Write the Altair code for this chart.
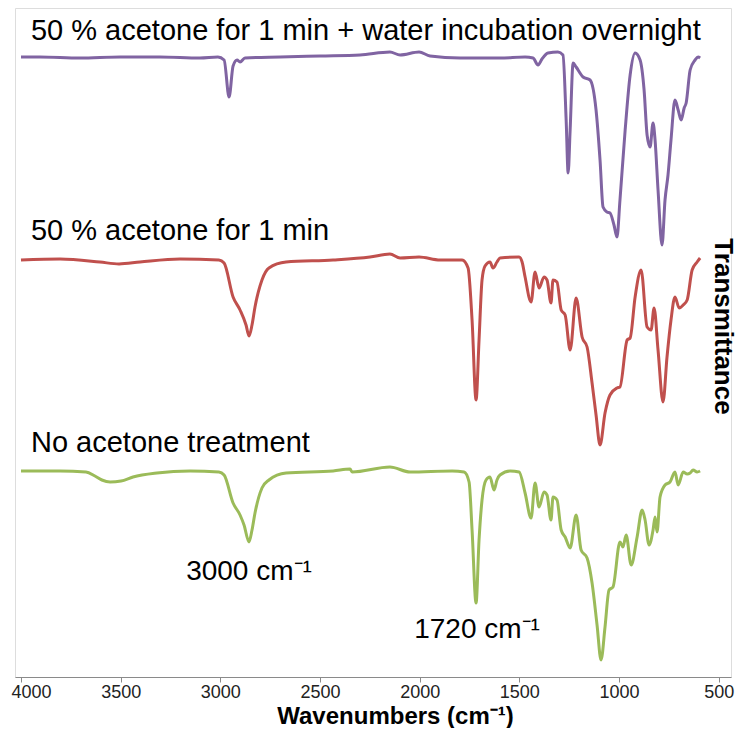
import altair as alt
import pandas as pd

# ---- data (wavenumber cm-1, transmittance a.u., traces offset) ----
purple_wn = [4000, 3905, 3704, 3503, 3303, 3102, 3012, 2981, 2956, 2936, 2916, 2901, 2876,
             2700, 2500, 2299, 2149, 2098, 2003, 1948, 1797, 1597, 1471, 1431, 1406, 1386,
             1356, 1306, 1281, 1265, 1255, 1245, 1230, 1215, 1180, 1145, 1115, 1095, 1080,
             1060, 1045, 1025, 1010, 995, 969, 944, 919, 894, 874, 859, 844, 829, 819, 804,
             784, 769, 754, 739, 719, 703, 688, 673, 663, 643, 618, 603, 593]
purple_T = [620, 620, 619, 620, 620, 619, 620, 617, 580, 611, 617, 615, 619,
            620, 621, 622, 625, 622, 625, 621, 619, 619, 620, 619, 612, 618,
            624, 625, 622, 557, 504, 547, 614, 610, 600, 597, 567, 517, 470,
            465, 464, 452, 440, 477, 547, 602, 624, 617, 587, 542, 530, 554, 537, 487,
            432, 477, 502, 537, 577, 567, 557, 569, 574, 607, 617, 620, 619]

red_wn = [4000, 3804, 3604, 3508, 3403, 3202, 3007, 2981, 2936, 2901, 2871, 2856, 2841, 2826,
          2791, 2756, 2670, 2434, 2249, 2149, 2098, 2003, 1898, 1787, 1757, 1737, 1717, 1702,
          1687, 1672, 1647, 1632, 1612, 1597, 1501, 1486, 1471, 1441, 1421, 1401, 1376, 1361,
          1341, 1331, 1311, 1290, 1270, 1245, 1215, 1185, 1160, 1135, 1115, 1095, 1070, 1045,
          1010, 995, 959, 944, 919, 889, 859, 839, 824, 804, 779, 759, 739, 719, 698, 678,
          658, 633, 608, 593]
red_T = [417, 418, 415, 413, 415, 418, 417, 414, 380, 367, 352, 341, 352, 370,
         397, 409, 415, 417, 420, 423, 419, 420, 417, 417, 409, 357, 277, 337,
         397, 411, 415, 409, 415, 419, 420, 415, 400, 375, 405, 389, 400, 397,
         374, 397, 395, 367, 362, 327, 379, 340, 330, 294, 262, 232, 264, 282,
         289, 290, 337, 339, 380, 407, 350, 347, 369, 327, 275, 320, 357, 380, 369, 372,
         377, 407, 415, 419]

green_wn = [4000, 3804, 3674, 3629, 3594, 3553, 3498, 3438, 3318, 3152, 3007, 2981, 2936,
            2901, 2881, 2856, 2841, 2826, 2791, 2756, 2670, 2434, 2349, 2339, 2149, 2048,
            1837, 1777, 1752, 1737, 1717, 1702, 1687, 1667, 1647, 1627, 1612, 1597, 1546,
            1501, 1471, 1441, 1421, 1401, 1376, 1361, 1341, 1331, 1311, 1290, 1270, 1245,
            1215, 1190, 1160, 1135, 1110, 1090, 1070, 1050, 1030, 995, 980, 964, 939, 909,
            884, 869, 849, 829, 819, 809, 794, 769, 744, 719, 703, 678, 658, 643, 628, 608, 593]
green_T = [206, 206, 205, 201, 197, 195, 196, 200, 204, 206, 205, 202, 174,
           162, 152, 135, 147, 164, 189, 197, 204, 206, 208, 205, 210, 205,
           206, 205, 195, 147, 74, 137, 177, 197, 200, 187, 197, 202, 206,
           205, 184, 159, 194, 170, 185, 182, 157, 180, 177, 147, 140, 129,
           162, 127, 119, 94, 52, 17, 50, 87, 90, 135, 130, 142, 112, 140,
           167, 157, 132, 147, 160, 145, 180, 192, 195, 205, 192, 205, 203, 204, 207, 205, 206]

series_names = ["50 % acetone for 1 min + water incubation overnight",
                "50 % acetone for 1 min",
                "No acetone treatment"]
series_colors = ["#8064A2", "#C0504D", "#9BBB59"]

x_ticks = [4000, 3500, 3000, 2500, 2000, 1500, 1000, 500]

label_text = ["50 % acetone for 1 min + water incubation overnight",
              "50 % acetone for 1 min",
              "No acetone treatment"]
label_wn = [3950, 3950, 3950]
label_T = [637, 437, 225]

peak_text = ["3000 cm\u207b\u00b9", "1720 cm\u207b\u00b9"]
peak_wn = [2856, 1712]
peak_T = [97, 39]

# ---- tables ----
rows = []
for name, wn, tv in [(series_names[0], purple_wn, purple_T),
                     (series_names[1], red_wn, red_T),
                     (series_names[2], green_wn, green_T)]:
    for i, (w, t) in enumerate(zip(wn, tv)):
        rows.append({"series": name, "wn": w, "T": t, "order": i})
df = pd.DataFrame(rows)
labels_df = pd.DataFrame({"text": label_text, "wn": label_wn, "T": label_T})
peaks_df = pd.DataFrame({"text": peak_text, "wn": peak_wn, "T": peak_T})

FONT = "Liberation Sans"

x_scale = alt.Scale(domain=[438, 4030], reverse=True, nice=False, zero=False)
y_scale = alt.Scale(domain=[0, 669], nice=False, zero=False)

lines = alt.Chart(df).mark_line(strokeWidth=3, strokeJoin="round",
                                interpolate="monotone").encode(
    x=alt.X("wn:Q", scale=x_scale,
            axis=alt.Axis(values=x_ticks, format="d", title="Wavenumbers (cm\u207b\u00b9)",
                          grid=False,
                          domainColor="#8a8a8a", tickColor="#8a8a8a", tickSize=5,
                          labelFontSize=18, labelFont=FONT, labelColor="#222222",
                          labelPadding=1, labelFlush=7, labelFlushOffset=10,
                          titleFontSize=24, titleFont=FONT, titleFontWeight="bold",
                          titleColor="#000000", titleX=380, titleY=46,
                          titleAlign="center", titleBaseline="alphabetic")),
    y=alt.Y("T:Q", scale=y_scale,
            axis=alt.Axis(orient="right", domain=False, ticks=False, labels=False, grid=False,
                          title="Transmittance", titleAngle=90, titleFontSize=26,
                          titleFont=FONT, titleFontWeight="bold", titleColor="#000000",
                          titleX=-9, titleY=318, titleAlign="center", titleBaseline="middle")),
    color=alt.Color("series:N", scale=alt.Scale(domain=series_names, range=series_colors),
                    legend=None),
    order="order:Q",
)

labels = alt.Chart(labels_df).mark_text(align="left", baseline="alphabetic", fontSize=29,
                                        font=FONT, color="#000000").encode(
    x=alt.X("wn:Q", scale=x_scale), y=alt.Y("T:Q", scale=y_scale), text="text:N")

peaks = alt.Chart(peaks_df).mark_text(align="center", baseline="alphabetic", fontSize=28,
                                      font=FONT, color="#000000").encode(
    x=alt.X("wn:Q", scale=x_scale), y=alt.Y("T:Q", scale=y_scale), text="text:N")

chart = alt.layer(lines, labels, peaks).properties(
    width=716, height=669,
    autosize=alt.AutoSizeParams(type="none"),
    padding={"left": 7, "top": 0, "right": 7, "bottom": 51},
).configure_view(strokeWidth=0).configure(background="#ffffff")

chart.save("out.html", embed_options={"renderer": "svg", "actions": False})
